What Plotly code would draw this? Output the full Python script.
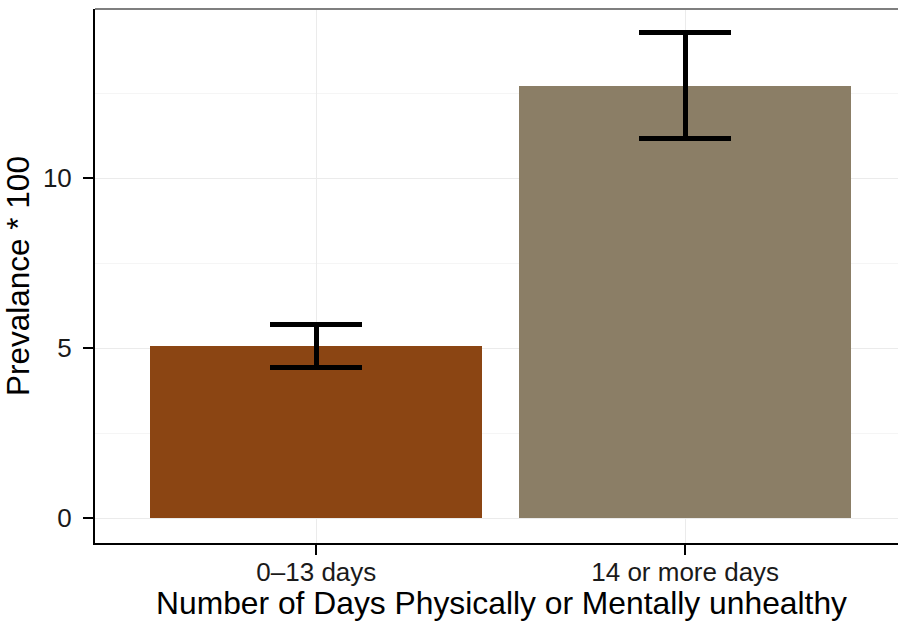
import plotly.graph_objects as go

categories = ["0–13 days", "14 or more days"]
prevalence = [5.08, 12.71]
err_upper = [0.61, 1.57]
err_lower = [0.63, 1.55]
bar_colors = ["#8B4513", "#8B7E66"]
y_ticks = [0, 5, 10]

FONT = "Liberation Sans, Arial, Helvetica, sans-serif"

x_idx = list(range(len(categories)))

fig = go.Figure()
fig.add_trace(go.Bar(
    x=x_idx,
    y=prevalence,
    width=0.9,
    marker=dict(color=bar_colors, line=dict(width=0)),
    error_y=dict(type="data", symmetric=False, array=err_upper, arrayminus=err_lower,
                 color="black", thickness=5, width=46),
    showlegend=False,
    hoverinfo="skip",
))

fig.update_layout(
    width=898, height=621,
    margin=dict(l=95, r=0, t=9, b=78, pad=0),
    paper_bgcolor="white", plot_bgcolor="white",
    font=dict(family=FONT, color="#1A1A1A"),
    bargap=0,
    xaxis=dict(
        range=[-0.6, 1.577],
        tickmode="array", tickvals=x_idx, ticktext=categories,
        tickfont=dict(size=26, color="#1A1A1A", family=FONT),
        ticks="outside", ticklen=10, tickwidth=2, tickcolor="black",
        ticklabelstandoff=-5,
        showline=True, linecolor="black", linewidth=2,
        showgrid=True, gridcolor="#EBEBEB", gridwidth=1,
        zeroline=False,
    ),
    yaxis=dict(
        range=[-0.726, 14.98],
        tickmode="array", tickvals=y_ticks, ticktext=[str(v) for v in y_ticks],
        tickfont=dict(size=26, color="#1A1A1A", family=FONT),
        ticks="outside", ticklen=10, tickwidth=2, tickcolor="black",
        ticklabelstandoff=6,
        showline=True, linecolor="black", linewidth=2,
        showgrid=True, gridcolor="#EBEBEB", gridwidth=1,
        minor=dict(tickvals=[2.5, 7.5, 12.5], showgrid=True, gridcolor="#F5F5F5", gridwidth=1, ticks=""),
        zeroline=False,
    ),
    annotations=[
        dict(text="Number of Days Physically or Mentally unhealthy",
             xref="paper", yref="paper", x=0.5062, y=0,
             xanchor="center", yanchor="top", yshift=-40, showarrow=False,
             font=dict(size=31.8, color="black", family=FONT)),
        dict(text="Prevalance * 100",
             xref="paper", yref="paper", x=0, y=0.5, textangle=-90,
             xanchor="right", yanchor="middle", xshift=-57, showarrow=False,
             font=dict(size=31.5, color="black", family=FONT)),
    ],
    shapes=[dict(type="line", xref="paper", yref="paper", x0=0, x1=1, y0=1, y1=1,
                 line=dict(color="#7F7F7F", width=2), layer="above")],
)

fig.write_html("out.html",
               config={"displayModeBar": False, "staticPlot": True},
               post_script="document.body.style.margin='0';document.body.style.overflow='hidden';")
